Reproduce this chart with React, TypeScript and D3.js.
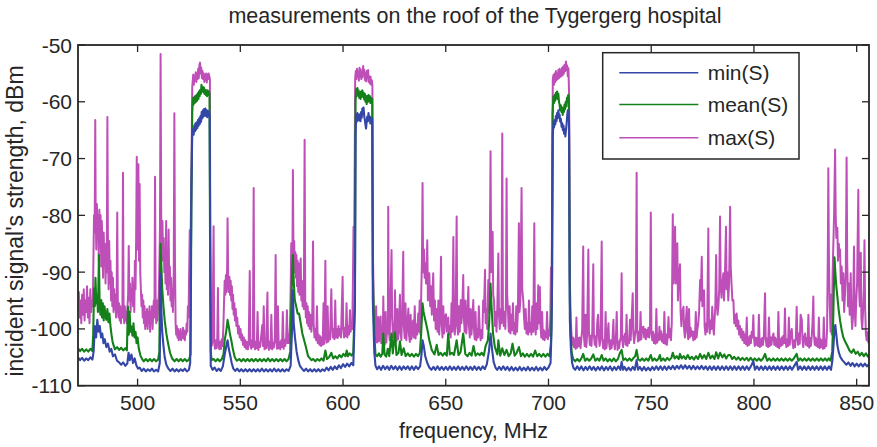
import React from "react";
import * as d3 from "d3";

type P = [number, number];

const title = "measurements on the roof of the Tygergerg hospital";
const xLabel = "frequency, MHz";
const yLabel = "incident signal's strength, dBm";
const xTicks = [500, 550, 600, 650, 700, 750, 800, 850];
const yTicks = [-110, -100, -90, -80, -70, -60, -50];
const seriesNames = ["min(S)", "mean(S)", "max(S)"];
const seriesColors = ["#3446a6", "#148019", "#bf4fb8"];

const maxS: P[] = [
[471.0,-96],[471.4,-93.5],[471.8,-98],[472.2,-95],[472.6,-99],[473.0,-94],[473.4,-97.5],[473.8,-93],[474.2,-98.5],[474.6,-95],[475.0,-97],[475.4,-92.5],[475.8,-98],[476.2,-94.5],[476.6,-99],[477.0,-93],[477.4,-97],[477.8,-95],[478.2,-96],
[478.5,-88],[478.8,-80],[479.1,-83],[479.4,-63.2],[479.6,-79],[479.9,-86],[480.2,-78],[480.5,-84],[480.8,-80],[481.1,-88],[481.4,-79],[481.7,-85],[482.0,-80],[482.3,-89],[482.6,-81],[482.9,-86],[483.2,-91],[483.5,-83],[483.8,-88],[484.1,-85],[484.4,-92],[484.7,-86],[485.0,-90],[485.3,-62.7],[485.6,-87],[485.9,-93],[486.2,-84.5],[486.5,-92],[486.8,-88],[487.1,-95],[487.4,-90],[487.7,-96],[488.0,-91],[488.3,-97],[488.6,-93],[488.9,-96.5],[489.2,-94],[489.5,-98],[489.8,-95],[490.1,-79.5],[490.4,-96],[490.7,-98],[491.0,-95.5],[491.3,-98.5],[491.6,-96],[491.9,-99],[492.2,-96.5],[492.6,-98],[492.9,-72.5],[493.2,-97],[493.5,-99],[493.8,-96],[494.1,-98.5],[494.4,-97],[494.8,-99],[495.1,-96],[495.4,-94],[495.7,-85.4],[496.0,-95],[496.3,-92],[496.6,-97],[496.9,-93],[497.2,-95],[497.5,-91],[497.8,-96],[498.1,-92],[498.4,-97],[498.7,-88],[499.0,-93],[499.3,-84],[499.6,-69.7],[499.9,-86],[500.2,-80],[500.4,-71],[500.7,-88],[501.0,-74.5],[501.3,-90],[501.6,-93],[501.9,-96],[502.2,-94],[502.5,-98],[502.8,-95],[503.1,-99],[503.4,-96],[503.7,-100],[504.0,-97],[504.3,-99.5],[504.6,-96.5],[504.9,-100],[505.2,-97],[505.5,-99],[505.8,-96],[506.1,-100.5],[506.4,-97],[506.7,-99],[507.0,-96],[507.3,-100],[507.6,-97.5],[507.9,-95],[508.2,-98],[508.5,-73.2],[508.8,-97],[509.1,-99],[509.4,-95],[509.7,-98.5],[510.0,-96],[510.3,-94],[510.6,-89],[510.9,-82],[511.2,-51.6],[511.5,-80],[511.8,-86],[512.1,-81],[512.4,-88],[512.7,-84],[513.0,-90],[513.3,-87],[513.6,-92],[513.9,-81],[514.2,-93],[514.5,-88],[514.8,-94],[515.1,-82.5],[515.4,-92],[515.7,-89],[516.0,-95],[516.3,-91],[516.6,-96],[516.9,-93],[517.2,-97],[517.6,-90],[517.9,-62],[518.2,-88],[518.5,-99],[518.8,-101],[519.1,-99.5],[519.4,-101.5],[519.7,-100],[520.0,-102],[520.3,-100.5],[520.6,-101.8],[520.9,-100],[521.2,-102],[521.5,-100.8],[521.8,-101.5],[522.1,-99.8],[522.4,-101.7],[522.7,-100.3],[523.0,-102],[523.3,-100.5],[523.6,-101],[523.9,-99],[524.2,-100.5],[524.5,-96],[524.8,-98],[525.1,-90],[525.4,-82.6],[525.7,-86],[526.0,-78.5],[526.3,-70],[526.6,-57.5],
[526.8,-56.5],[527.1,-55.2],[527.4,-57],[527.7,-55.5],[528.0,-56.3],[528.3,-54.8],[528.6,-56.5],[528.9,-55],[529.2,-56],[529.5,-54.2],[529.8,-55.8],[530.1,-53.5],[530.4,-53.1],[530.7,-55],[531.0,-54],[531.3,-55.8],[531.6,-54.6],[531.9,-56],[532.2,-55],[532.5,-56.5],[532.8,-55.3],[533.1,-56.2],[533.4,-55],[533.7,-56.6],[534.0,-55.2],[534.3,-56],[534.6,-55],[534.9,-55.5],[535.2,-56],[535.4,-85],[535.7,-101.5],
[536.1,-103],[536.5,-101.8],[537.0,-81.9],[537.3,-102.5],[537.7,-103.5],[538.1,-102],[538.5,-103.4],[538.8,-101.5],[539.1,-92.8],[539.4,-102.8],[539.8,-103.6],[540.2,-102.2],[540.6,-103.5],[541.0,-101.8],[541.4,-103],[541.8,-99],[542.1,-95],[542.4,-91.5],[542.7,-94],[543.0,-90.5],[543.3,-93.5],[543.6,-89],[543.8,-80.5],[544.1,-91],[544.4,-93.5],[544.7,-90.8],[545.0,-94],[545.3,-91.5],[545.6,-95],[545.9,-92.5],[546.2,-96.5],[546.5,-94],[546.8,-97.5],[547.1,-95.5],[547.4,-98.5],[547.8,-96.5],[548.1,-99.5],[548.5,-98],[548.9,-100.8],[549.3,-99.5],[549.7,-101.5],[550.1,-100],[550.5,-102],[550.9,-101],[551.3,-102.8],[551.7,-101.5],[552.1,-103.2],[552.5,-102],[552.9,-103.5],[553.3,-102.3],[553.7,-103.6],[554.1,-102.2],[554.6,-89.8],[554.9,-102.8],[555.3,-103.5],[555.7,-102],[556.1,-103.2],[556.5,-75.2],[556.8,-102.5],[557.2,-103.6],[557.6,-102.2],[558.0,-103.4],[558.4,-97],[558.8,-103.7],[559.2,-102.4],[559.6,-103.2],[560.0,-101.8],[560.7,-99.3],[561.0,-103],[561.4,-96],[561.8,-103.6],[562.2,-102.3],[562.6,-103.4],[563.2,-93.6],[563.5,-102.8],[563.9,-103.7],[564.3,-102.2],[564.7,-103.4],[565.1,-97.5],[565.5,-103.6],[565.9,-102.5],[566.3,-103.3],[566.8,-101.5],[567.2,-87],[567.5,-102.2],[567.9,-103.5],[568.3,-96],[568.7,-103.4],[569.1,-102.3],[569.5,-103.6],[569.9,-102],[570.3,-103.2],[570.7,-97],[571.1,-103.5],[571.5,-101.9],[571.9,-103],[572.3,-101.8],[572.7,-96.7],[573.0,-102.5],[573.4,-101],[573.8,-102.5],[574.2,-99],[574.5,-93],[574.8,-84.9],[575.1,-90],[575.4,-86],[575.6,-72],[575.9,-88],[576.2,-84.5],[576.5,-90],[576.8,-86.5],[577.1,-91],[577.3,-87],[577.6,-92.5],[577.9,-88],[578.2,-93.5],[578.5,-88.5],[578.8,-94],[579.1,-89.5],[579.4,-87.6],[579.7,-95],[580.0,-91.5],[580.3,-96],[580.6,-92],[580.9,-96.5],[581.3,-66.7],[581.6,-95],[581.9,-98],[582.2,-95.5],[582.5,-99],[582.8,-96],[583.1,-99.5],[583.4,-97],[583.8,-100],[584.2,-97.5],[584.6,-100.5],[585.0,-98],[585.4,-84.6],[585.7,-99],[586.1,-101.5],[586.5,-100],[586.9,-102],[587.3,-96],[587.7,-102.5],[588.1,-101],[588.5,-102.8],[588.9,-101.3],[589.3,-103],[589.7,-101.5],[590.1,-102.8],[590.5,-95.5],[590.9,-102.6],[591.4,-88],[591.7,-101],[592.1,-102.4],[592.5,-96],[592.9,-102.2],[593.3,-100.5],[593.7,-101.8],[594.0,-97],[594.3,-93],[594.6,-99],[595.0,-101.5],[595.4,-100],[595.8,-101.8],[596.2,-95],[596.6,-101.5],[597.0,-100],[597.4,-101.6],[597.8,-99.5],[598.2,-101.2],[598.6,-100],[599.0,-101.5],[599.4,-96],[599.8,-90.8],[600.1,-100],[600.5,-101.5],[600.9,-99.8],[601.3,-101.3],[601.7,-95.5],[602.1,-101.5],[602.5,-99.5],[602.9,-101],[603.4,-96.7],[603.7,-100.5],[604.1,-99],[604.5,-100],[604.8,-92],[605.1,-82],[605.4,-86],[605.7,-70],[605.9,-56],
[606.2,-54.6],[606.5,-56],[606.8,-54.2],[607.1,-55.5],[607.4,-54.8],[607.7,-56.3],[608.0,-54],[608.3,-55.6],[608.6,-54.3],[608.9,-56],[609.2,-54.8],[609.5,-55.7],[609.8,-53.7],[610.1,-55.2],[610.4,-54.4],[610.7,-56.2],[611.0,-55],[611.3,-56.4],[611.6,-54.6],[611.9,-55.8],[612.2,-54.4],[612.5,-56.5],[612.8,-55.5],[613.1,-56.8],[613.4,-55.6],[613.7,-57],[614.0,-56.2],[614.3,-57.2],[614.6,-88],[614.9,-95],[615.3,-100.5],
[615.7,-102],[616.1,-96],[616.5,-102.4],[616.9,-101],[617.2,-97.9],[617.5,-102.2],[617.9,-100.8],[618.3,-97.8],[618.6,-102.5],[619.0,-101],[619.3,-102.6],[619.6,-94.3],[619.9,-101.5],[620.3,-102.8],[620.7,-97],[621.1,-102.4],[621.5,-99.5],[621.8,-100.8],[622.0,-78.5],[622.3,-100],[622.7,-102],[623.1,-95],[623.6,-86.1],[623.9,-98],[624.3,-101.5],[624.7,-99],[625.0,-100.5],[625.3,-93.2],[625.6,-101],[626.0,-102.2],[626.4,-96.5],[626.8,-101.8],[627.2,-99.5],[627.7,-94],[628.0,-100.8],[628.4,-102],[628.8,-97],[629.3,-86.4],[629.6,-99.5],[630.0,-101.6],[630.4,-95.5],[630.8,-102],[631.2,-99.8],[631.8,-96.4],[632.1,-101],[632.5,-102.3],[632.9,-97.5],[633.3,-101.8],[633.7,-100],[634.1,-98.5],[634.5,-101.5],[634.9,-96],[635.3,-101.7],[635.7,-99.2],[636.1,-101],[636.6,-97.3],[636.9,-100.5],[637.3,-95],[637.7,-101],[638.1,-93],[638.4,-88],[638.7,-74.3],[639.0,-90],[639.4,-86],[639.7,-91],[640.1,-88.5],[640.4,-92],[640.7,-89],[641.0,-84.4],[641.3,-95],[641.7,-91],[642.0,-90.2],[642.4,-96],[642.8,-92.5],[643.2,-97.5],[643.6,-93],[643.9,-90.2],[644.3,-98.5],[644.7,-95],[645.1,-100],[645.6,-96.5],[646.0,-100.5],[646.4,-95],[646.8,-101],[647.2,-98],[647.7,-87.3],[648.0,-99],[648.4,-101.5],[648.8,-96],[649.2,-100.8],[649.6,-98],[650.1,-97.4],[650.5,-100.5],[650.9,-99],[651.2,-98],[651.6,-101],[652.0,-99.5],[652.4,-101.5],[652.8,-95.5],[653.2,-100.5],[653.7,-83.8],[654.0,-99],[654.4,-101],[654.8,-98],[655.3,-80.2],[655.6,-99.5],[656.0,-101],[656.4,-96],[656.8,-100.5],[657.3,-94.9],[657.6,-99],[658.0,-97],[658.5,-90.5],[658.8,-98],[659.2,-100.5],[659.6,-95],[660.0,-100.8],[660.5,-98],[661.0,-92.6],[661.3,-99.5],[661.7,-101.5],[662.1,-96.5],[662.5,-101],[662.9,-98.5],[663.4,-94.9],[663.7,-100],[664.1,-101.8],[664.5,-97],[664.9,-102],[665.3,-100],[665.7,-101.5],[666.1,-96],[666.6,-100.8],[667.0,-102],[667.4,-100.2],[667.8,-101.6],[668.2,-95],[668.6,-97],[669.1,-89.6],[669.4,-99],[669.8,-96.5],[670.2,-100],[670.7,-91.4],[671.0,-97],[671.4,-88],[671.8,-68.7],[672.1,-90],[672.4,-86],[672.8,-82.9],[673.1,-94],[673.5,-95],[673.9,-99.5],[674.3,-97],[674.7,-100.5],[675.1,-96],[675.6,-86.7],[675.9,-97.5],[676.3,-100],[676.7,-96.5],[677.1,-99],[677.5,-65.6],[677.8,-96],[678.2,-99.5],[678.6,-97],[679.0,-100],[679.3,-95],[679.6,-73.5],[679.9,-94],[680.3,-97],[680.7,-100.5],[681.1,-96],[681.5,-100.8],[681.9,-97.5],[682.3,-100.2],[682.7,-95.5],[683.1,-100.8],[683.5,-99],[683.9,-101],[684.3,-96],[684.7,-100.5],[685.1,-97],[685.6,-81.4],[685.9,-97],[686.3,-95],[686.9,-75.2],[687.2,-93],[687.7,-94.9],[688.1,-98],[688.5,-100],[688.9,-96.5],[689.3,-100.8],[689.7,-99],[690.1,-101],[690.5,-95],[690.9,-100.5],[691.3,-99],[691.7,-101],[692.1,-96],[692.6,-100.5],[693.1,-81.4],[693.4,-99],[693.8,-101],[694.2,-95.5],[694.6,-100],[695.0,-92.3],[695.3,-99],[695.8,-92.6],[696.1,-99.5],[696.5,-101.5],[696.9,-97],[697.3,-101.8],[697.7,-100.2],[698.1,-102],[698.5,-100.5],[698.9,-101.5],[699.3,-97],[699.7,-101.8],[700.1,-100.3],[700.5,-101.2],[700.9,-98],[701.2,-89.2],[701.5,-96],[701.8,-75],[702.1,-56],
[702.4,-55.3],[702.7,-57],[703.0,-55],[703.3,-56.5],[703.6,-54.6],[703.9,-56.2],[704.2,-55],[704.5,-56],[704.8,-54.4],[705.1,-55.8],[705.4,-54.2],[705.7,-55.6],[706.0,-54.5],[706.3,-55.5],[706.6,-54],[706.9,-55.3],[707.2,-53.8],[707.5,-55],[707.8,-53.5],[708.1,-54.6],[708.5,-52.9],[708.8,-54.4],[709.1,-53.6],[709.4,-55.5],[709.7,-54.1],[710.0,-58.2],[710.2,-70],[710.4,-91.4],[710.8,-98],[711.2,-101],
[711.6,-102.8],[712.0,-101.5],[712.4,-103.2],[712.8,-101.8],[713.2,-103.5],[713.6,-98],[714.0,-103.3],[714.4,-101.6],[714.8,-103],[715.2,-101.5],[715.6,-103.4],[716.0,-101.8],[716.4,-100],[716.9,-85.5],[717.2,-101],[717.6,-103],[718.0,-97.5],[718.4,-103.2],[718.8,-101],[719.4,-86],[719.7,-100.5],[720.1,-102.8],[720.5,-101.2],[720.9,-103],[721.3,-100.5],[721.8,-88.6],[722.1,-101],[722.5,-102.8],[722.9,-101.3],[723.3,-103.2],[723.7,-99],[724.1,-97.5],[724.5,-101.5],[724.9,-103],[725.3,-101.8],[725.9,-84.6],[726.2,-101.5],[726.6,-103.4],[727.0,-102],[727.4,-103.6],[727.8,-97],[728.2,-103.4],[728.6,-101.8],[729.2,-99],[729.5,-102.5],[729.9,-103.6],[730.3,-102],[730.7,-103.4],[731.1,-102.2],[731.6,-98.4],[731.9,-102.5],[732.3,-103.6],[732.9,-100.8],[733.2,-97],[733.6,-103.7],[734.0,-102.2],[734.4,-103.4],[734.8,-102],[735.2,-101.5],[735.6,-90.2],[735.9,-102],[736.3,-103.2],[736.7,-101.5],[737.3,-100.8],[737.6,-102.8],[738.0,-97.5],[738.4,-103],[738.8,-101.8],[739.2,-102.5],[739.7,-98.4],[740.0,-102],[740.4,-99],[741.0,-93.7],[741.3,-100.8],[741.7,-102.5],[742.1,-101],[742.5,-100],[742.9,-72.5],[743.2,-100.5],[743.6,-102.2],[744.0,-100.5],[744.4,-102],[744.8,-97],[745.2,-101.8],[745.6,-99.8],[746.2,-99.6],[746.6,-101.5],[747.0,-100],[747.4,-101.8],[747.8,-100.2],[748.2,-101.4],[748.6,-99.8],[749.0,-101.5],[749.4,-100],[749.8,-79.5],[750.1,-100.5],[750.5,-102],[750.9,-100.5],[751.3,-102.5],[751.7,-101],[752.1,-102.6],[752.5,-96.5],[752.9,-102.4],[753.3,-101],[753.7,-102],[754.0,-99.6],[754.4,-101.8],[754.8,-100.4],[755.2,-102.2],[755.6,-101],[756.0,-102.5],[756.4,-97],[756.8,-102.6],[757.2,-101],[757.6,-102.8],[758.0,-101.5],[758.4,-97.9],[758.8,-101.5],[759.2,-100],[759.6,-102],[760.0,-99],[760.5,-79.8],[760.8,-92],[761.2,-88],[761.6,-82],[761.9,-92],[762.3,-88],[762.7,-84.9],[763.0,-95],[763.4,-91],[764.0,-88.6],[764.3,-97],[764.7,-99.5],[765.1,-97],[765.7,-96.1],[766.0,-100],[766.4,-101.5],[766.8,-99],[767.3,-96.1],[767.6,-100.5],[768.0,-101.8],[768.4,-96.5],[768.8,-101.5],[769.2,-99.8],[769.6,-101.2],[770.0,-100.4],[770.5,-102],[770.9,-100.5],[771.3,-101.8],[771.7,-97],[772.1,-101.5],[772.5,-100],[772.9,-99],[773.3,-97],[773.8,-91.4],[774.1,-95],[774.6,-87.3],[774.9,-96],[775.3,-95],[775.7,-93.2],[776.0,-99.5],[776.4,-101],[776.8,-99],[777.2,-100.5],[777.8,-82.3],[778.1,-99],[778.5,-100.8],[778.9,-98.5],[779.3,-100],[779.7,-96.1],[780.1,-99.5],[780.5,-101],[780.9,-98],[781.2,-96],[781.6,-87],[781.9,-95],[782.3,-97.5],[782.7,-96],[783.1,-93],[783.5,-80.2],[783.8,-92],[784.2,-94.5],[784.6,-92],[785.1,-90.2],[785.4,-95],[785.8,-92],[786.4,-82],[786.7,-93],[787.1,-90],[787.5,-95],[787.9,-92],[788.4,-78.5],[788.7,-89],[789.1,-92],[789.5,-95],[790.0,-94.9],[790.4,-99],[790.8,-97.5],[791.2,-99.5],[791.6,-97.3],[792.0,-100],[792.4,-98.5],[792.8,-101],[793.2,-99.5],[793.6,-101.5],[794.0,-100],[794.4,-102],[794.9,-100.5],[795.3,-102.5],[795.7,-101],[796.1,-102.7],[796.5,-98],[796.9,-103],[797.3,-101.5],[797.7,-102.8],[798.1,-101.2],[798.5,-102.5],[798.9,-100.5],[799.3,-101.5],[799.7,-97.6],[800.0,-101.5],[800.4,-103],[800.8,-101.5],[801.2,-102.8],[801.6,-101.6],[802.0,-103],[802.4,-97.5],[802.8,-103.2],[803.2,-101.8],[803.6,-103],[804.0,-101.6],[804.4,-102.8],[804.8,-101.5],[805.4,-93.7],[805.7,-101.5],[806.1,-103],[806.5,-101.7],[806.9,-103.2],[807.3,-98],[807.7,-103],[808.1,-101.5],[808.5,-102.8],[808.9,-101.5],[809.5,-100.8],[809.9,-102.8],[810.3,-101.5],[810.7,-103],[811.1,-101.8],[811.5,-103.2],[811.9,-97],[812.3,-103.4],[812.7,-101.8],[813.1,-103],[813.5,-101.5],[813.9,-102.8],[814.3,-101.2],[814.7,-102.5],[815.1,-96.4],[815.4,-102],[815.8,-103.2],[816.2,-101.8],[816.6,-103],[817.0,-98],[817.4,-102.8],[817.8,-101.2],[818.4,-100],[818.8,-102.5],[819.2,-103.4],[819.6,-102],[820.0,-103.2],[820.4,-101.5],[820.8,-96.1],[821.1,-101],[821.5,-102.8],[821.9,-100.8],[822.3,-102.6],[822.7,-97.5],[823.3,-98.4],[823.6,-101.8],[824.0,-103.2],[824.4,-101.5],[824.9,-100.8],[825.3,-102.8],[825.7,-101.6],[826.1,-103],[826.5,-97.5],[826.9,-103.3],[827.3,-101.6],[827.7,-103],[828.1,-101.5],[828.5,-99],[828.9,-94.3],[829.2,-101],[829.6,-102.8],[830.0,-101.5],[830.4,-103],[830.8,-101.8],[831.2,-103.2],[831.6,-98],[832.0,-103.4],[832.4,-101.8],[832.8,-103.2],[833.2,-102],[833.6,-103.5],[834.0,-98],[834.4,-103.4],[834.8,-102],[835.2,-103],[835.6,-100],[836.0,-85],[836.2,-71.7],[836.5,-88],[836.9,-96],[837.3,-100.5],[837.6,-94],[837.9,-101],[838.3,-90],[838.7,-84.4],[839.0,-80],[839.5,-68.4],[839.8,-80],[840.1,-84],[840.6,-82.2],[840.9,-88],[841.3,-85],[841.6,-87],[841.9,-86],[842.3,-92],[842.7,-89],[843.1,-95],[843.5,-90.2],[843.9,-97],[844.3,-94],[844.7,-90],[845.1,-69.8],[845.4,-88],[845.8,-96],[846.2,-92],[846.6,-97.5],[847.1,-90.2],[847.4,-97],[847.8,-100],[848.2,-98],[848.7,-85.5],[849.0,-96],[849.4,-99.5],[849.8,-95],[850.2,-92],[850.8,-75.5],[851.1,-92],[851.5,-96],[852.0,-86.6],[852.3,-98],[852.7,-100],[853.1,-97],[853.5,-93],[853.8,-84.4],[854.1,-96],[854.5,-101],[854.9,-102],[855.3,-100.5],[855.7,-102.5]
];

const meanS: P[] = [
[471,-103.4],[472,-103.9],[473,-103.5],[474,-104],[475,-103.6],[476,-104],[477,-103.5],[478,-103.9],[478.4,-101],[478.8,-92.9],[479.2,-96],[479.5,-91],[479.9,-95.5],[480.3,-94],[480.7,-97],[481.2,-87],[481.5,-95],[481.9,-97.5],[482.3,-94.9],[482.7,-98],[483.1,-95.5],[483.5,-98.5],[483.9,-96],[484.3,-97.5],[484.8,-98.4],[485.3,-96.5],[485.8,-98.8],[486.3,-97.3],[486.8,-99.5],[487.3,-101],[487.8,-102.2],[488.4,-103],[489,-103.6],[490,-103.2],[491,-103.7],[492,-103.3],[493,-103.8],[494,-103.4],[494.8,-103.8],[495.3,-96.1],[495.7,-101],[496.1,-97],[496.6,-100.5],[497,-99.6],[497.5,-101.2],[498,-99],[498.5,-101.5],[499,-100.5],[499.5,-102.5],[500,-101.5],[500.6,-103.5],[501.4,-104.7],[502.2,-105.3],[503,-105.7],[504,-105.3],[505,-105.7],[506,-105.3],[507,-105.7],[508,-105.3],[509,-105.7],[510,-105.4],[510.6,-104],[510.9,-92],[511.2,-85],[511.6,-89],[512,-93],[512.6,-96.1],[513.2,-98.5],[514,-100.8],[514.8,-102.5],[515.8,-104.2],[516.8,-105.2],[518,-105.7],[519,-105.3],[520,-105.7],[521,-105.3],[522,-105.7],[523,-105.3],[524,-105.7],[525,-105.4],[525.8,-104.5],[526.2,-78],[526.6,-62],
[526.9,-59.4],[527.2,-60.5],[527.5,-59.2],[527.8,-60.2],[528.1,-59],[528.4,-60],[528.7,-58.8],[529,-59.8],[529.3,-58.5],[529.6,-59.5],[529.9,-58.2],[530.2,-59],[530.5,-57.9],[530.8,-58.6],[531.1,-57],[531.4,-58.2],[531.7,-57.4],[532,-58.3],[532.3,-57.5],[532.6,-58.6],[532.9,-57.9],[533.2,-58.8],[533.5,-58],[533.8,-59],[534.1,-58],[534.4,-58.8],[534.7,-58.2],[535,-58.5],[535.3,-88],[535.6,-104],[536,-105.5],
[537,-105.3],[538,-105.7],[539,-105.3],[540,-105.7],[541,-105.3],[541.8,-104.5],[542.4,-102],[543.2,-100.3],[543.8,-98.4],[544.4,-99.6],[545,-101],[545.6,-102],[546.4,-103.6],[547.3,-105],[548.3,-105.6],[549.5,-105.3],[550.5,-105.7],[551.5,-105.3],[552.5,-105.7],[553.5,-105.3],[554.5,-105.7],[555.5,-105.3],[556.5,-105.7],[557.5,-105.3],[558.5,-105.7],[559.5,-105.3],[560.5,-105.7],[561.5,-105.3],[562.5,-105.7],[563.5,-105.2],[564.5,-105.7],[565.5,-105.3],[566.5,-105.7],[567.5,-105.3],[568.5,-105.7],[569.5,-105.3],[570.5,-105.7],[571.5,-105.3],[572.5,-105.7],[573.5,-105.3],[574.3,-104],[574.8,-96.1],[575.2,-90.2],[575.6,-87],[576,-91.5],[576.5,-94.9],[577.2,-96],[577.9,-97.3],[578.6,-97.3],[579.4,-99],[580.2,-100.8],[581.8,-103],[583,-104.8],[584.6,-105.5],[585.5,-105.3],[586.5,-105.7],[587.5,-105.3],[588.5,-105.6],[589.5,-105.2],[590.5,-105.6],[591.4,-103.8],[592.2,-105.3],[593.2,-105],[594.3,-104.2],[595.2,-105.2],[596.2,-104.8],[597.2,-105.2],[598.2,-104.6],[599.2,-105],[600.2,-104.4],[601.2,-104.8],[601.8,-103.8],[602.4,-104.8],[603.2,-104.3],[604.2,-104.7],[605,-104.2],[605.4,-99],[605.8,-92.6],[606.1,-60],
[606.4,-57.8],[606.7,-59],[607,-57.6],[607.3,-58.6],[607.6,-58],[607.9,-59.3],[608.2,-58.4],[608.5,-59.5],[608.8,-58.2],[609.1,-59.2],[609.4,-58],[609.7,-59],[610,-58.4],[610.3,-59.6],[610.6,-58.6],[610.9,-60],[611.2,-59],[611.5,-60.4],[611.8,-59],[612.1,-60],[612.4,-58.8],[612.7,-59.8],[613,-59],[613.3,-60.2],[613.6,-59.3],[613.9,-60],[614.2,-59.5],[614.5,-90],[614.8,-95],[615.2,-100.8],[615.8,-104.5],
[616.6,-104.8],[617.5,-104.3],[618.3,-104.9],[619.1,-104.4],[619.6,-100.8],[620.2,-104.5],[621,-104.9],[621.8,-103.5],[622.5,-104.8],[623.6,-100.8],[624.2,-104.3],[625.3,-100.6],[626,-104.6],[627,-104.2],[627.7,-102.2],[628.5,-104.6],[629.5,-103.4],[630.5,-104.8],[631.5,-104.3],[632.5,-104.8],[633.5,-104.4],[634.5,-104.9],[635.5,-104.4],[636.5,-104.8],[637.4,-104.2],[638,-101],[638.7,-95.5],[639.2,-97],[639.9,-98.2],[641,-100],[642,-102],[643.2,-103.7],[644.5,-104.5],[645.6,-102.8],[646.5,-104.6],[647.5,-104.2],[648.5,-104.7],[649.5,-104.2],[650.5,-104.7],[651.2,-100.8],[652,-104.5],[653,-104.2],[654,-104.6],[655.3,-102],[656.2,-104.6],[657.2,-104.1],[658.5,-100.8],[659.5,-104.4],[660.6,-104.8],[661.6,-104.2],[662.6,-104.7],[663.5,-103],[664.5,-104.7],[665.5,-104.3],[666.6,-104.6],[667.5,-104.2],[668.5,-104.7],[669.4,-103],[670.5,-102],[671.1,-99],[671.8,-92],[672.3,-96.1],[673,-100.8],[673.9,-103.2],[675.1,-104.5],[675.6,-102],[676.5,-104.7],[677.5,-103.4],[678.5,-104.6],[679.6,-103.7],[680.6,-104.8],[681.6,-104.3],[682.5,-102.6],[683.5,-104.7],[684.5,-104.2],[685.6,-103.2],[686.6,-104.8],[687.5,-104.3],[688.5,-104.9],[689.5,-104.4],[690.5,-104.9],[691.5,-104.4],[692.5,-104.9],[693.5,-103.8],[694.5,-104.8],[695.5,-104.4],[696.5,-104.9],[697.5,-104.4],[698.5,-104.9],[699.5,-104.4],[700.5,-104.8],[701.2,-102.5],[701.6,-95],[702,-62],
[702.4,-59.1],[702.7,-60.2],[703,-58.8],[703.3,-59.8],[703.6,-58.4],[703.9,-59.4],[704.2,-58.2],[704.5,-59.5],[704.8,-58.6],[705.1,-60],[705.4,-60.5],[705.7,-61.5],[706,-60.6],[706.3,-61.8],[706.6,-61],[706.9,-62.3],[707.2,-61],[707.5,-61.8],[707.8,-60.5],[708.1,-61.3],[708.4,-60],[708.7,-60.8],[709,-59.3],[709.3,-60],[709.6,-58.8],[709.9,-59.5],[710.2,-80],[710.4,-94.9],[710.8,-101],[711.3,-104.2],[712,-105.3],
[713,-105.7],[714,-105.3],[715,-105.7],[716,-105.2],[716.9,-104.4],[717.8,-105.6],[718.8,-105.2],[719.8,-105.6],[720.8,-105.2],[721.8,-104.5],[722.8,-105.6],[723.8,-105.2],[724.8,-105.6],[725.9,-104.6],[726.8,-105.6],[727.8,-105.2],[728.8,-105.7],[729.8,-105.3],[730.8,-105.7],[731.8,-105.2],[732.8,-105.7],[733.8,-105.3],[734.8,-104.2],[735.6,-103.7],[736.4,-105.5],[737.4,-105.2],[738.4,-105.6],[739.4,-105.2],[740.4,-105.6],[741.4,-105.1],[742.2,-104.8],[742.9,-103.7],[743.6,-105.3],[744.6,-105.6],[745.6,-105.2],[746.6,-105.6],[747.6,-105.2],[748.6,-105.6],[749.8,-104.6],[750.6,-105.6],[751.6,-105.2],[752.6,-105.6],[753.6,-105.2],[754.2,-104.6],[754.8,-105.6],[755.8,-105.2],[756.8,-105.6],[757.8,-105.1],[758.8,-105.5],[759.8,-105.1],[760.5,-104.2],[761.4,-105.2],[762.4,-104.8],[763.4,-105.3],[764,-104.4],[764.8,-105.2],[765.8,-104.8],[766.8,-105.3],[767.8,-104.6],[768.8,-105.3],[769.8,-104.9],[770.8,-105.4],[771.8,-104.8],[772.8,-105.3],[773.8,-104.4],[774.8,-105.2],[775.8,-104.6],[776.8,-105.3],[777.8,-104.2],[778.8,-105.2],[779.8,-104.7],[780.8,-105.3],[781.6,-104.1],[782.6,-105.2],[783.5,-104.2],[784.6,-105],[785.6,-104.5],[786.5,-105.2],[787.5,-104.6],[788.4,-104.6],[789.4,-105.3],[790.4,-104.9],[791.4,-105.4],[792.4,-105],[793.4,-105.5],[794.4,-105.1],[795.4,-105.5],[796.4,-105.1],[797.4,-105.6],[798.4,-105.1],[799.4,-105.6],[800.4,-105.2],[801.4,-105.6],[802.4,-105.2],[803.4,-105.6],[804.4,-105.2],[805.4,-104.4],[806.4,-105.6],[807.4,-105.2],[808.4,-105.6],[809.4,-105.2],[810.4,-105.6],[811.4,-105.2],[812.4,-105.6],[813.4,-105.2],[814.4,-105.6],[815.4,-105.2],[816.4,-105.6],[817.4,-105.2],[818.4,-105.6],[819.4,-105.2],[820.8,-104.4],[821.6,-105.6],[822.6,-105.2],[823.6,-105.6],[824.6,-105.2],[825.6,-105.6],[826.6,-105.2],[827.6,-105.6],[828.6,-105.2],[829.6,-105.6],[830.6,-105.2],[831.6,-105.6],[832.6,-105.2],[833.6,-105.6],[834.6,-105.2],[835.6,-105.6],[836.4,-105.2],[837.3,-105.6],[838.1,-104],[838.6,-98],[839.2,-87.4],[839.6,-90],[840.1,-92.5],[840.6,-94.3],[841.2,-96.5],[841.9,-98.5],[842.6,-100],[843.5,-101.5],[844.5,-102.3],[845.5,-103],[846.5,-103.8],[847.5,-104.2],[848.5,-103.6],[849.5,-104.4],[850.5,-104],[851.5,-104.7],[852.5,-104.2],[853.5,-104.8],[854.5,-104.3],[855.5,-104.9],[856,-104.6]
];

const minS: P[] = [
[471,-105.0],[472,-105.5],[473,-105.1],[474,-105.6],[475,-105.2],[476,-105.5],[477,-105.0],[478,-105.4],[478.6,-104],[479.2,-99.5],[479.8,-101.5],[480.4,-98.4],[481,-100.5],[481.6,-99.5],[482.2,-101.5],[482.8,-100.8],[483.4,-102.5],[484,-101.8],[484.8,-103.2],[485.6,-102.6],[486.4,-104],[487.2,-103.5],[488,-104.8],[489,-104.5],[490,-105.6],[491,-105.9],[492,-106.3],[493,-105.9],[494,-106.5],[495,-106.1],[495.6,-104.2],[496.2,-105.5],[497,-104.5],[497.8,-106],[498.6,-105.2],[499.4,-106.4],[500.2,-107],[501,-106.8],[502,-107.4],[503,-107.0],[504,-107.5],[505,-107.1],[506,-107.4],[507,-107.0],[508,-107.5],[509,-107.2],[510,-107.5],[510.8,-106],[511.2,-90.3],[511.6,-97],[512,-100.5],[512.6,-103],[513.2,-105],[514,-106.3],[515,-107],[516,-107.4],[517,-107],[518,-107.5],[519,-107.1],[520,-107.5],[521,-107.1],[522,-107.4],[523,-107],[524,-107.5],[525,-107.2],[525.6,-106],[526.2,-75],[526.6,-65.6],
[527.0,-64.8],[527.3,-65.8],[527.6,-64.2],[527.9,-65.2],[528.2,-63.8],[528.5,-64.9],[528.8,-63.6],[529.1,-64.6],[529.4,-63.2],[529.7,-64.2],[530.0,-62.9],[530.3,-63.9],[530.6,-62.5],[530.9,-63.5],[531.2,-61.8],[531.5,-62.9],[531.8,-61.5],[532.1,-62.6],[532.4,-61.3],[532.7,-62.4],[533.0,-61.2],[533.3,-62.5],[533.6,-61.5],[533.9,-62.7],[534.2,-61.6],[534.5,-62.6],[534.8,-61.8],[535.1,-62.3],[535.3,-80],[535.6,-106.5],
[536.5,-107.2],[537.5,-106.8],[538.5,-107.4],[539.5,-107],[540.5,-107.4],[541.5,-106.6],[542.4,-104.5],[543.2,-103],[543.8,-102],[544.4,-103.5],[545,-104.5],[545.8,-106],[546.6,-107],[547.5,-107.4],[548.5,-107],[549.5,-107.5],[550.5,-107.1],[551.5,-107.5],[552.5,-107.1],[553.5,-107.5],[554.5,-107.1],[555.5,-107.5],[556.5,-107.1],[557.5,-107.5],[558.5,-107.1],[559.5,-107.5],[560.5,-107],[561.5,-107.5],[562.5,-107.1],[563.5,-107.5],[564.5,-107.1],[565.5,-107.5],[566.5,-107],[567.5,-107.5],[568.5,-107.1],[569.5,-107.5],[570.5,-107.1],[571.5,-107.5],[572.5,-107.1],[573.5,-107.4],[574.5,-106.5],[575.2,-100],[575.6,-93.2],[576,-99],[576.6,-101.5],[577.4,-104],[578.2,-105.5],[579,-106.5],[580,-107],[581,-107.4],[582,-107],[583,-107.5],[584,-107.1],[585,-107.5],[586,-107.1],[587,-107.5],[588,-107.1],[589,-107.5],[590,-107.1],[591,-107.4],[592,-106.8],[593,-107.3],[594,-106.7],[595,-107.2],[596,-106.6],[597,-107.1],[598,-106.4],[599,-106.9],[600,-106.2],[601,-106.7],[602,-106.1],[603,-106.6],[604,-106],[605,-106.4],[605.5,-100],[605.8,-96.1],[606.1,-66],
[606.4,-62.3],[606.7,-63.5],[607,-62],[607.3,-63.2],[607.6,-62.3],[607.9,-63.3],[608.2,-62.2],[608.5,-63.4],[608.8,-61.8],[609.1,-62.8],[609.4,-61.2],[609.7,-62.2],[610,-61],[610.3,-62.5],[610.6,-63.2],[610.9,-64],[611.2,-64.7],[611.5,-63.5],[611.8,-62.6],[612.1,-63.4],[612.4,-62],[612.7,-63],[613,-62.6],[613.3,-63.8],[613.6,-62.8],[613.9,-63.5],[614.2,-63],[614.5,-95],[614.8,-99],[615.2,-104],[615.8,-106.5],
[616.6,-107.1],[617.5,-106.6],[618.5,-107.2],[619.5,-106.5],[620.5,-107.1],[621.5,-106.6],[622.5,-107.2],[623.5,-106.5],[624.5,-107.1],[625.5,-106.6],[626.5,-107.2],[627.5,-106.6],[628.5,-107.2],[629.5,-106.6],[630.5,-107.1],[631.5,-106.6],[632.5,-107.2],[633.5,-106.6],[634.5,-107.2],[635.5,-106.6],[636.5,-107.1],[637.5,-106.6],[638.2,-104.5],[638.7,-102],[639.3,-103],[640,-104.8],[641,-106],[642,-106.8],[643,-107.2],[644,-106.7],[645,-107.2],[646,-106.6],[647,-107.2],[648,-106.7],[649,-107.2],[650,-106.7],[651,-107.2],[652,-106.6],[653,-107.2],[654,-106.7],[655,-107.2],[656,-106.6],[657,-107.2],[658,-106.7],[659,-107.2],[660,-106.6],[661,-107.2],[662,-106.7],[663,-107.2],[664,-106.6],[665,-107.2],[666,-106.7],[667,-107.2],[668,-106.6],[669,-107.1],[670,-106.2],[671,-104],[671.8,-100.8],[672.5,-103.5],[673.3,-105.8],[674.2,-106.8],[675,-107.2],[676,-106.7],[677,-107.2],[678,-106.6],[679,-107.2],[680,-106.7],[681,-107.3],[682,-106.7],[683,-107.3],[684,-106.8],[685,-107.3],[686,-106.7],[687,-107.3],[688,-106.8],[689,-107.3],[690,-106.7],[691,-107.3],[692,-106.8],[693,-107.3],[694,-106.7],[695,-107.3],[696,-106.8],[697,-107.3],[698,-106.7],[699,-107.2],[700,-106.8],[701,-106],[701.5,-100],[701.8,-90],[702.1,-66],
[702.4,-63.5],[702.7,-64.5],[703,-63.2],[703.3,-64],[703.6,-62.5],[703.9,-63.4],[704.2,-62],[704.5,-62.9],[704.8,-61.5],[705.1,-62.6],[705.4,-62.3],[705.7,-63.5],[706,-63],[706.4,-64.4],[706.7,-63.8],[707,-65],[707.3,-64.2],[707.6,-65.6],[707.9,-64.8],[708.2,-66.1],[708.5,-65],[708.8,-64],[709.1,-62.5],[709.4,-61.5],[709.7,-62.8],[710,-63.5],[710.2,-85],[710.4,-98.5],[710.9,-103.5],[711.5,-106],[712.2,-106.9],
[713,-107.2],[714,-106.6],[715,-107.2],[716,-106.6],[717,-107.3],[718,-106.7],[719,-107.2],[720,-106.6],[721,-107.2],[722,-106.7],[723,-107.3],[724,-106.7],[725,-107.2],[726,-106.6],[727,-107.3],[728,-106.7],[729,-107.2],[730,-106.6],[731,-107.3],[732,-106.7],[733,-107.2],[734,-106.6],[735,-107.2],[735.6,-105.8],[736.3,-107.2],[737,-106.7],[738,-107.3],[739,-106.8],[740,-107.3],[741,-106.7],[742,-107.2],[742.9,-105.5],[743.6,-107.2],[744.5,-106.7],[745.5,-107.3],[746.5,-106.7],[747.5,-107.3],[748.5,-106.8],[749.5,-107.3],[750.5,-106.7],[751.5,-107.2],[752.5,-106.6],[753.5,-107.2],[754.5,-106.6],[755.5,-107.2],[756.5,-106.6],[757.5,-107.2],[758.5,-106.6],[759.5,-107.1],[760.5,-106.5],[761.5,-107.1],[762.5,-106.5],[763.5,-107],[764.5,-106.4],[765.5,-107],[766.5,-106.4],[767.5,-107],[768.5,-106.5],[769.5,-107.1],[770.5,-106.5],[771.5,-107.1],[772.5,-106.6],[773.5,-107.1],[774.5,-106.5],[775.5,-107.1],[776.5,-106.6],[777.5,-107.2],[778.5,-106.6],[779.5,-107.2],[780.5,-106.6],[781.5,-107.2],[782.5,-106.6],[783.5,-107.2],[784.5,-106.6],[785.5,-107.2],[786.5,-106.6],[787.5,-107.2],[788.5,-106.6],[789.5,-107.2],[790.5,-106.6],[791.5,-107.2],[792.5,-106.6],[793.5,-107.2],[794.5,-106.6],[795.5,-107.2],[796.5,-106.6],[797.5,-107.2],[798.5,-106.6],[799.7,-105.7],[800.5,-107.2],[801.5,-106.6],[802.5,-107.2],[803.5,-106.6],[804.5,-107.2],[805.5,-106.6],[806.5,-107.2],[807.5,-106.6],[808.5,-107.2],[809.5,-106.6],[810.5,-107.2],[811.5,-106.6],[812.5,-107.2],[813.5,-106.6],[814.5,-107.2],[815.5,-106.6],[816.5,-107.2],[817.5,-106.6],[818.5,-107.2],[819.5,-106.6],[820.8,-105.8],[821.5,-107.2],[822.5,-106.6],[823.5,-107.2],[824.5,-106.6],[825.5,-107.2],[826.5,-106.6],[827.5,-107.2],[828.5,-106.6],[829.5,-107.2],[830.5,-106.6],[831.5,-107.2],[832.5,-106.6],[833.5,-107.2],[834.5,-106.6],[835.5,-107.2],[836.5,-106.6],[837.5,-107.2],[838.2,-105.5],[838.7,-103],[839.2,-100],[839.6,-99.3],[840.1,-101],[840.6,-102.8],[841.2,-104],[842,-104.9],[843,-105.5],[844,-105.9],[845,-106.3],[846,-105.9],[847,-106.5],[848,-106],[849,-106.6],[850,-106.1],[851,-106.6],[852,-106.1],[853,-106.6],[854,-106.1],[855,-106.6],[856,-106.2]
];

const W = 877, H = 447;
const L = 78, R = 869, T = 45, B = 385.7;
const FONT = "'Liberation Sans', Arial, Helvetica, sans-serif";
const INK = "#262626";

export default function App() {
  const x = d3.scaleLinear().domain([471, 856]).range([L, R]);
  const y = d3.scaleLinear().domain([-110, -50]).range([B, T]);
  const line = d3.line<P>().x(d => x(d[0])).y(d => y(d[1]));
  const series = [minS, meanS, maxS];
  const widths = [2.1, 2.1, 2.0];
  const drawOrder = [2, 1, 0];
  const tickLen = 7;
  const legX = 602.7, legY = 52.7, legW = 196.3, legH = 106.3;
  const legRows = [72.7, 104.5, 137.7];

  return (
    <div style={{ position: "fixed", left: 0, top: 0, width: W, height: H, background: "#fff" }}>
      <svg width={W} height={H} style={{ display: "block" }} fontFamily={FONT}>
        <rect x={0} y={0} width={W} height={H} fill="#fff" />
        <defs>
          <clipPath id="plotclip">
            <rect x={L} y={T} width={R - L} height={B - T} />
          </clipPath>
        </defs>
        <g clipPath="url(#plotclip)">
          {drawOrder.map(i => (
            <path key={i} d={line(series[i]) || ""} fill="none" stroke={seriesColors[i]}
              strokeWidth={widths[i]} strokeLinejoin="round" />
          ))}
        </g>
        <rect x={L} y={T} width={R - L} height={B - T} fill="none" stroke={INK} strokeWidth={1.8} />
        {xTicks.map(t => (
          <g key={"x" + t}>
            <line x1={x(t)} x2={x(t)} y1={B} y2={B - tickLen} stroke={INK} strokeWidth={1.3} />
            <line x1={x(t)} x2={x(t)} y1={T} y2={T + tickLen} stroke={INK} strokeWidth={1.3} />
            <text x={x(t)} y={410} textAnchor="middle" fontSize={21} fill={INK}>{t}</text>
          </g>
        ))}
        {yTicks.map(t => (
          <g key={"y" + t}>
            <line x1={L} x2={L + tickLen} y1={y(t)} y2={y(t)} stroke={INK} strokeWidth={1.3} />
            <line x1={R} x2={R - tickLen} y1={y(t)} y2={y(t)} stroke={INK} strokeWidth={1.3} />
            <text x={72} y={y(t) + 7.5} textAnchor="end" fontSize={21} fill={INK}>{t}</text>
          </g>
        ))}
        <text x={475} y={22.5} textAnchor="middle" fontSize={21.5} fill={INK}>{title}</text>
        <text x={473.5} y={438} textAnchor="middle" fontSize={21.5} fill={INK}>{xLabel}</text>
        <text transform="translate(22.5,221) rotate(-90)" textAnchor="middle" fontSize={23} fill={INK}>{yLabel}</text>
        <rect x={legX} y={legY} width={legW} height={legH} fill="#fff" stroke={INK} strokeWidth={1.5} />
        {seriesNames.map((n, i) => (
          <g key={n}>
            <line x1={619.3} x2={698.3} y1={legRows[i]} y2={legRows[i]} stroke={seriesColors[i]} strokeWidth={1.6} />
            <text x={707.7} y={legRows[i] + 7.3} fontSize={21} fill={INK}>{n}</text>
          </g>
        ))}
      </svg>
    </div>
  );
}
